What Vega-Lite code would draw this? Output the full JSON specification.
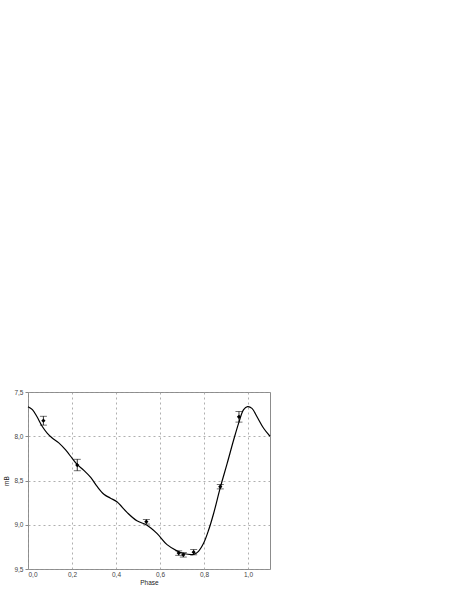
{
  "$schema": "https://vega.github.io/schema/vega-lite/v6.json",
  "autosize": "none",
  "width": 242,
  "height": 177,
  "padding": {"left": 28, "top": 392, "right": 193, "bottom": 30},
  "background": "white",
  "config": {
    "view": {"stroke": "#8c8c8c", "strokeWidth": 1},
    "axis": {
      "labelFont": "Liberation Sans",
      "titleFont": "Liberation Sans",
      "labelFontSize": 6.5,
      "titleFontSize": 6.5,
      "titleFontWeight": "normal",
      "labelColor": "#444",
      "titleColor": "#222",
      "grid": true,
      "gridDash": [2, 3],
      "gridColor": "#9a9a9a",
      "gridWidth": 0.8,
      "domain": false,
      "tickColor": "#888",
      "tickSize": 3
    }
  },
  "datasets": {
    "curve": [
      {"phase": 0.0, "mag": 7.666},
      {"phase": 0.02, "mag": 7.7},
      {"phase": 0.041, "mag": 7.78},
      {"phase": 0.065, "mag": 7.89},
      {"phase": 0.088, "mag": 7.967},
      {"phase": 0.11, "mag": 8.02},
      {"phase": 0.14, "mag": 8.075},
      {"phase": 0.171, "mag": 8.155},
      {"phase": 0.201, "mag": 8.25},
      {"phase": 0.224, "mag": 8.32},
      {"phase": 0.254, "mag": 8.385},
      {"phase": 0.285, "mag": 8.465},
      {"phase": 0.315, "mag": 8.57},
      {"phase": 0.345, "mag": 8.655},
      {"phase": 0.375, "mag": 8.70},
      {"phase": 0.404, "mag": 8.74},
      {"phase": 0.45, "mag": 8.86},
      {"phase": 0.495, "mag": 8.955},
      {"phase": 0.541, "mag": 9.005},
      {"phase": 0.586, "mag": 9.097},
      {"phase": 0.632, "mag": 9.225},
      {"phase": 0.677, "mag": 9.295},
      {"phase": 0.707, "mag": 9.325},
      {"phase": 0.753, "mag": 9.335},
      {"phase": 0.775, "mag": 9.3},
      {"phase": 0.798, "mag": 9.21},
      {"phase": 0.821, "mag": 9.06},
      {"phase": 0.844, "mag": 8.87},
      {"phase": 0.874, "mag": 8.58},
      {"phase": 0.905, "mag": 8.31},
      {"phase": 0.935, "mag": 8.04},
      {"phase": 0.959, "mag": 7.84},
      {"phase": 0.98, "mag": 7.7},
      {"phase": 0.998, "mag": 7.666},
      {"phase": 1.018, "mag": 7.685},
      {"phase": 1.041, "mag": 7.78},
      {"phase": 1.071, "mag": 7.91},
      {"phase": 1.1, "mag": 8.0}
    ],
    "obs": [
      {"phase": 0.07, "mag": 7.824, "lo": 7.774, "hi": 7.874},
      {"phase": 0.224, "mag": 8.325, "lo": 8.26, "hi": 8.39},
      {"phase": 0.538, "mag": 8.966, "lo": 8.94, "hi": 8.992},
      {"phase": 0.685, "mag": 9.32, "lo": 9.295, "hi": 9.345},
      {"phase": 0.706, "mag": 9.34, "lo": 9.315, "hi": 9.365},
      {"phase": 0.753, "mag": 9.31, "lo": 9.28, "hi": 9.34},
      {"phase": 0.874, "mag": 8.57, "lo": 8.545, "hi": 8.595},
      {"phase": 0.959, "mag": 7.78, "lo": 7.72, "hi": 7.84}
    ]
  },
  "encoding": {
    "x": {
      "field": "phase", "type": "quantitative",
      "scale": {"domain": [0, 1.1], "nice": false, "zero": false},
      "axis": {"title": "Phase", "values": [0, 0.2, 0.4, 0.6, 0.8, 1.0], "labelExpr": "replace(format(datum.value, '.1f'), '.', ',')", "titlePadding": 2, "labelPadding": 2, "ticks": false}
    },
    "y": {
      "field": "mag", "type": "quantitative",
      "scale": {"domain": [7.5, 9.5], "reverse": true, "nice": false, "zero": false},
      "axis": {"title": "mB", "values": [7.5, 8.0, 8.5, 9.0, 9.5], "labelExpr": "replace(format(datum.value, '.1f'), '.', ',')", "titlePadding": 4, "labelPadding": 2}
    }
  },
  "layer": [
    {
      "data": {"name": "curve"},
      "mark": {"type": "line", "interpolate": "catmull-rom", "color": "black", "strokeWidth": 1.2}
    },
    {
      "data": {"name": "obs"},
      "mark": {"type": "rule", "color": "black", "strokeWidth": 0.8},
      "encoding": {"y": {"field": "lo", "type": "quantitative"}, "y2": {"field": "hi"}}
    },
    {
      "data": {"name": "obs"},
      "mark": {"type": "tick", "color": "black", "orient": "horizontal", "size": 7, "thickness": 0.8},
      "encoding": {"y": {"field": "lo", "type": "quantitative"}}
    },
    {
      "data": {"name": "obs"},
      "mark": {"type": "tick", "color": "black", "orient": "horizontal", "size": 7, "thickness": 0.8},
      "encoding": {"y": {"field": "hi", "type": "quantitative"}}
    },
    {
      "data": {"name": "obs"},
      "mark": {"type": "point", "shape": "diamond", "filled": true, "color": "black", "size": 18, "opacity": 1}
    }
  ]
}
